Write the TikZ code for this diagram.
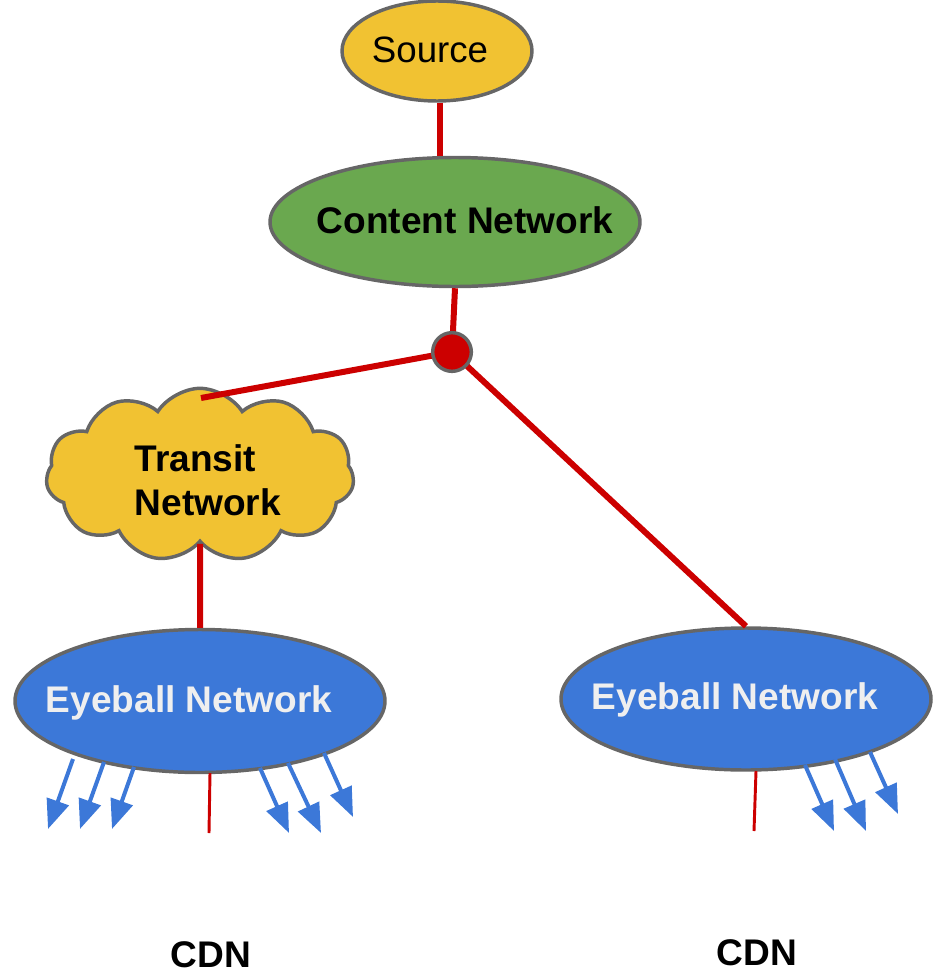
\documentclass[tikz,border=0pt]{standalone}
\usepackage{fontspec}
\setmainfont{Liberation Sans}
\usetikzlibrary{shapes.geometric,shapes.symbols,arrows.meta,calc}
\definecolor{srcyellow}{HTML}{F1C232}
\definecolor{cngreen}{HTML}{6AA84F}
\definecolor{eyeblue}{HTML}{3C78D8}
\definecolor{linkred}{HTML}{CC0000}
\definecolor{bordergray}{HTML}{666666}
\definecolor{eyetext}{HTML}{EFEFEF}
\tikzset{
  oval/.style={ellipse, draw=bordergray, line width=2.6pt, inner sep=0pt},
  lbl/.style={font=\fontsize{27.5}{33}\selectfont},
  blbl/.style={font=\fontsize{27.8}{33}\selectfont\bfseries},
  redlink/.style={draw=linkred, line width=4.5pt},
  thinred/.style={draw=linkred, line width=2.2pt},
  bluearrow/.style={draw=eyeblue, line width=3pt, -{Triangle[length=22pt,width=17pt]}},
}
\begin{document}
\begin{tikzpicture}[x=0.75pt,y=-0.75pt]
\useasboundingbox (0,0) rectangle (932,974);
% nodes
\node[oval, fill=srcyellow, minimum width=142.5pt, minimum height=75pt] (src) at (437,51) {};
\node[lbl] (srct) at (430,50) {Source};
\node[oval, fill=cngreen, minimum width=277.5pt, minimum height=96.75pt] (cn) at (455,222) {};
\node[blbl] (cnt) at (465,220) {Content Network};
\node[cloud, cloud puffs=11, cloud puff arc=115, cloud ignores aspect, fill=srcyellow, draw=bordergray, line width=2.6pt, minimum width=231pt, minimum height=130pt, inner sep=0pt] (cloud) at (200,475) {};
\node[blbl, align=left, anchor=west] (cloudt) at (130,480) {Transit\\Network};
\node[oval, fill=eyeblue, minimum width=277.5pt, minimum height=107.25pt] (le) at (200,701) {};
\node[blbl, text=eyetext] (let) at (189,703) {Eyeball Network};
\node[oval, fill=eyeblue, minimum width=277.5pt, minimum height=106.5pt] (re) at (746,699) {};
\node[blbl, text=eyetext] (ret) at (735,700) {Eyeball Network};
\node[blbl] (cdnl) at (211,955) {CDN};
\node[blbl] (cdnr) at (757,953) {CDN};
% links
\coordinate (x440) at (440,0);
\draw[redlink] (src.south -| x440) -- (cn.north -| x440);
\draw[redlink] (cn.south) -- (452,352);
\coordinate (cloudin) at (201,398);
\draw[redlink] (452,352) -- (cloudin);
\draw[redlink] (452,352) -- (re.north);
\draw[redlink] (cloud.south) -- (le.north);
\node[circle, fill=linkred, draw=bordergray, line width=2.6pt, minimum size=29pt, inner sep=0pt] (dot) at (452,352) {};
% bottom red stubs
\coordinate (ls1) at (210,773); \coordinate (ls2) at (209,833);
\draw[thinred] (ls1) -- (ls2);
\coordinate (rs1) at (756,771); \coordinate (rs2) at (754,831);
\draw[thinred] (rs1) -- (rs2);
% blue arrows left
\coordinate (a1s) at (73,759); \coordinate (a1e) at (48,829);
\coordinate (a2s) at (104,762); \coordinate (a2e) at (80,829);
\coordinate (a3s) at (134,767); \coordinate (a3e) at (112,829);
\coordinate (a4s) at (260,768); \coordinate (a4e) at (289,833);
\coordinate (a5s) at (288,763); \coordinate (a5e) at (321,833);
\coordinate (a6s) at (324,753); \coordinate (a6e) at (353,817);
\foreach \i in {1,...,6} \draw[bluearrow] (a\i s) -- (a\i e);
% blue arrows right
\coordinate (b1s) at (805,765); \coordinate (b1e) at (834,831);
\coordinate (b2s) at (835,759); \coordinate (b2e) at (866,831);
\coordinate (b3s) at (870,752); \coordinate (b3e) at (898,814);
\foreach \i in {1,2,3} \draw[bluearrow] (b\i s) -- (b\i e);
\end{tikzpicture}
\end{document}
